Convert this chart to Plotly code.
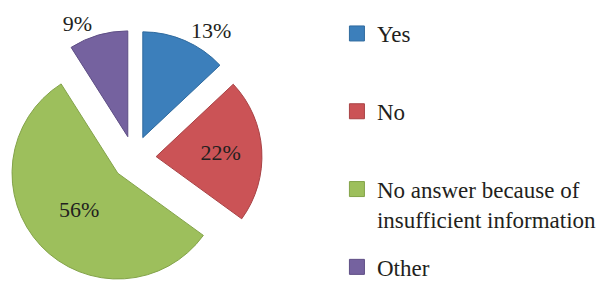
import plotly.graph_objects as go

labels = ["Yes", "No", "No answer because of insufficient information", "Other"]
legend_labels = ["Yes<br>", "No<br>", "No answer because of<br>insufficient information", "Other"]
values = [13, 22, 56, 9]
colors = ["#3C7FBB", "#CB5356", "#9DBF5C", "#75629F"]
edge_colors = ["#2F6A9E", "#A84245", "#83A349", "#5E4E85"]
text_pos = ["outside", "inside", "inside", "outside"]

FONT = "'Liberation Serif', 'Times New Roman', Times, serif"

fig = go.Figure()
fig.add_trace(go.Pie(
    labels=labels,
    values=values,
    sort=False,
    direction="clockwise",
    rotation=0,
    pull=[0.21] * len(values),
    marker=dict(colors=colors, line=dict(color=edge_colors, width=1)),
    texttemplate="%{value}%",
    textposition=text_pos,
    insidetextorientation="horizontal",
    textfont=dict(family=FONT, size=22, color="#231F20"),
    domain=dict(x=[0, 0.4422], y=[0, 0.895]),
    automargin=False,
    showlegend=False,
    hoverinfo="label+percent",
))

for lab, leg, col, ec in zip(labels, legend_labels, colors, edge_colors):
    fig.add_trace(go.Scatter(
        x=[None], y=[None], mode="markers", name=leg, legendgroup=lab,
        marker=dict(symbol="square", size=15, color=col, line=dict(color=ec, width=1)),
        hoverinfo="skip",
    ))

fig.update_layout(
    width=606, height=286,
    margin=dict(l=0, r=0, t=0, b=0, autoexpand=False),
    paper_bgcolor="white", plot_bgcolor="white",
    xaxis=dict(visible=False), yaxis=dict(visible=False),
    legend=dict(
        x=0.556, y=0.958, xanchor="left", yanchor="top",
        font=dict(family=FONT, size=23, color="#231F20"),
        traceorder="grouped", tracegroupgap=15, valign="top",
        bgcolor="rgba(0,0,0,0)",
    ),
)

fig.write_html("out.html", config={"displayModeBar": False},
               post_script="document.body.style.margin='0';")
